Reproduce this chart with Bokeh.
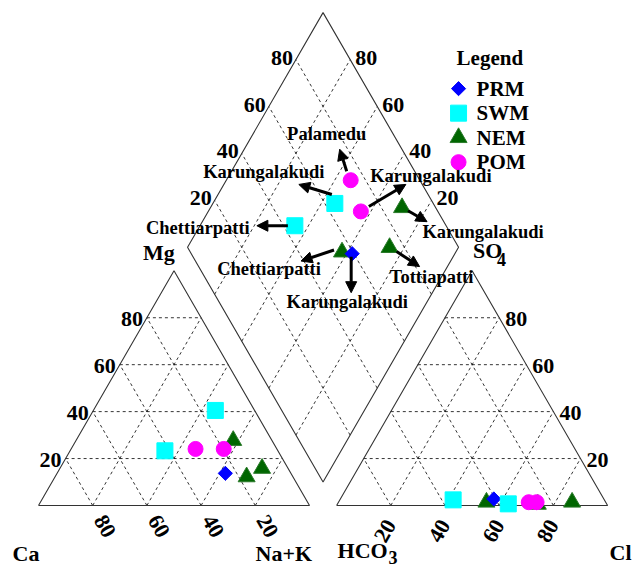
import math
from bokeh.plotting import figure
from bokeh.models import Arrow, NormalHead
from bokeh.core.properties import value
from bokeh.embed import file_html
from bokeh.resources import INLINE

# ---------------- data (percent of meq) ----------------
groups = ["PRM", "SWM", "SWM", "NEM", "NEM", "NEM", "POM", "POM"]
sites = ["Karungalakudi", "Karungalakudi", "Chettiarpatti", "Chettiarpatti",
         "Karungalakudi", "Tottiapatti", "Palamedu", "Karungalakudi"]
ca   = [24.2, 14.5, 41.7, 14.3, 17.1,  9.6, 30.0, 19.6]
mg   = [13.7, 40.5, 23.3, 27.7, 12.2, 15.8, 24.1, 24.1]
nak  = [62.1, 45.0, 35.0, 58.0, 70.7, 74.6, 45.9, 56.3]
hco3 = [40.6, 36.3, 55.8, 44.0, 12.4, 25.5, 25.5, 28.4]
cl   = [56.6, 63.0, 41.8, 54.6, 86.2, 74.0, 73.1, 70.2]
so4  = [2.8,  0.7,  2.4,  1.4,  1.4,  0.5,  1.4,  1.4]
legend_groups = ["PRM", "SWM", "NEM", "POM"]
ticks = [20, 40, 60, 80]

# ---------------- layout / style ----------------
SC = 2.71            # px per data unit
GAP = 10.0
H = math.sqrt(3) / 2
FONT = value("Liberation Serif")
styles = {
    "PRM": dict(marker="square", angle=math.pi / 4, size=10, fill_color="#0000FF", line_color="#0000FF"),
    "SWM": dict(marker="square", angle=0.0, size=16, fill_color="#00FFFF", line_color="#00FFFF"),
    "NEM": dict(marker="triangle", angle=0.0, size=17, fill_color="#006600", line_color="#2a7a2a"),
    "POM": dict(marker="circle", angle=0.0, size=15, fill_color="#FF00FF", line_color="#FF00FF"),
}
draw_order = ["NEM", "PRM", "SWM", "POM"]
# annotation layout in px (dx right, dy down) relative to diamond point
ann = [
    ((-1, 3), (-1, 39), (-5, 48)),
    ((-3, -9), (-36, -19), (-71, -31)),
    ((-7, 0), (-38, 0), (-97, 2)),
    ((-8, -2), (-41, 9), (-73, 17)),
    ((6, 3), (25, 14), (81, 24)),
    ((7, 4), (30, 19), (42, 29)),
    ((-4, -9), (-11, -31), (-24, -46)),
    ((8, -5), (45, -27), (70, -35)),
]

W, HT = 632, 567
x0 = -38 / SC
y1 = 505 / SC
p = figure(width=W, height=HT, x_range=(x0, x0 + W / SC), y_range=(y1 - HT / SC, y1),
           output_backend="svg", toolbar_location=None, min_border=0)
p.axis.visible = False
p.grid.visible = False
p.outline_line_color = None
p.background_fill_color = "white"

def u(d):
    return d / SC

def cat_xy(a, m, n):
    t = a + m + n
    m, n = m / t * 100, n / t * 100
    return n + m / 2, m * H

def an_xy(h, c, s):
    t = h + c + s
    c, s = c / t * 100, s / t * 100
    return 100 + GAP + c + s / 2, s * H

def dia_xy(pc, pa):
    (xc, yc), (xa, ya) = pc, pa
    t = (2 * (xa - xc) + (ya - yc) / H) / 2
    return xc + 0.5 * t, yc + H * t

def dline(a, b):
    p.line([a[0], b[0]], [a[1], b[1]], line_color="black", line_width=0.8, line_dash="3 3")

def text(xs, ys, ts, size, align="center", base="middle", angle=0.0, bold=True):
    p.text(x=xs, y=ys, text=ts, angle=angle, text_align=align, text_baseline=base,
           text_font=FONT, text_font_style="bold" if bold else "normal",
           text_font_size=size, text_color="black")

# ---------------- grids ----------------
for k in ticks:
    dline(cat_xy(100 - k, k, 0), cat_xy(0, k, 100 - k))
    dline(cat_xy(k, 0, 100 - k), cat_xy(k, 100 - k, 0))
    dline(cat_xy(100 - k, 0, k), cat_xy(0, 100 - k, k))
    dline(an_xy(100 - k, 0, k), an_xy(0, 100 - k, k))
    dline(an_xy(k, 100 - k, 0), an_xy(k, 0, 100 - k))
    dline(an_xy(100 - k, k, 0), an_xy(0, k, 100 - k))

B = (100 + GAP / 2, GAP * H)
L = (B[0] - 50, B[1] + 100 * H)
T = (B[0], B[1] + 200 * H)
R = (B[0] + 50, B[1] + 100 * H)
def lerp(a, b, f):
    return (a[0] + f * (b[0] - a[0]), a[1] + f * (b[1] - a[1]))
for k in ticks:
    f = k / 100
    dline(lerp(B, R, f), lerp(L, T, f))
    dline(lerp(B, L, f), lerp(R, T, f))

# ---------------- outlines ----------------
for pts in ([cat_xy(100, 0, 0), cat_xy(0, 0, 100), cat_xy(0, 100, 0), cat_xy(100, 0, 0)],
            [an_xy(100, 0, 0), an_xy(0, 100, 0), an_xy(0, 0, 100), an_xy(100, 0, 0)],
            [B, R, T, L, B]):
    p.line([q[0] for q in pts], [q[1] for q in pts], line_color="#333333", line_width=1.1)

# ---------------- tick labels ----------------
TS = "22px"
labs = [str(k) for k in ticks]
# Mg on left edge
pts = [cat_xy(100 - k, k, 0) for k in ticks]
text([q[0] - u(4) for q in pts], [q[1] - u(1) for q in pts], labs, TS, align="right")
# Ca on base (rotated)
pts = [cat_xy(k, 0, 100 - k) for k in ticks]
text([q[0] + 4.8 * 0.5 for q in pts], [q[1] - 4.8 * H for q in pts], labs, TS,
     align="left", angle=-math.pi / 3)
# SO4 on right edge
pts = [an_xy(0, 100 - k, k) for k in ticks]
text([q[0] + u(6) for q in pts], [q[1] - u(1) for q in pts], labs, TS, align="left")
# Cl on base (rotated)
pts = [an_xy(100 - k, k, 0) for k in ticks]
text([q[0] + u(0) for q in pts], [q[1] - u(16) for q in pts], labs, TS,
     align="right", angle=math.pi / 3)
# diamond edges
pts = [lerp(L, T, k / 100) for k in ticks]
text([q[0] - u(3) for q in pts], [q[1] + u(2) for q in pts], labs, TS, align="right")
pts = [lerp(R, T, k / 100) for k in ticks]
text([q[0] + u(5) for q in pts], [q[1] + u(2) for q in pts], labs, TS, align="left")

# ---------------- axis titles ----------------
AS = "22px"
apex = cat_xy(0, 100, 0)
text([apex[0] - u(31)], [apex[1] + u(18)], ["Mg"], AS, align="left")
capx = cat_xy(100, 0, 0)
text([capx[0] - u(26)], [capx[1] - u(48)], ["Ca"], AS, align="left")
nax = cat_xy(0, 0, 100)
text([nax[0] - u(54)], [nax[1] - u(48)], ["Na+K"], AS, align="left")
hx = an_xy(100, 0, 0)
text([hx[0] + u(1)], [hx[1] - u(45)], ["HCO"], AS, align="left")
text([hx[0] + u(52)], [hx[1] - u(52)], ["3"], "18px", align="left")
clx = an_xy(0, 100, 0)
text([clx[0] + u(24)], [clx[1] - u(46.5)], ["Cl"], AS, align="right")
sx = an_xy(0, 0, 100)
text([sx[0] + u(1)], [sx[1] + u(20.5)], ["SO"], AS, align="left")
text([sx[0] + u(25)], [sx[1] + u(11)], ["4"], "18px", align="left")

# ---------------- points ----------------
cpts = [cat_xy(a, m, n) for a, m, n in zip(ca, mg, nak)]
apts = [an_xy(h, c, s) for h, c, s in zip(hco3, cl, so4)]
dpts = [dia_xy(c, a) for c, a in zip(cpts, apts)]

# annotations in diamond
for (d, (st, en, tx), site) in zip(dpts, ann, sites):
    p.add_layout(Arrow(end=NormalHead(size=11, fill_color="black", line_color="black", line_width=1),
                       x_start=d[0] + u(st[0]), y_start=d[1] - u(st[1]),
                       x_end=d[0] + u(en[0]), y_end=d[1] - u(en[1]),
                       line_width=3, line_color="black"))
    text([d[0] + u(tx[0])], [d[1] - u(tx[1])], [site], "18.5px")

for g in draw_order:
    idx = [i for i, gg in enumerate(groups) if gg == g]
    st = styles[g]
    for pts in (cpts, apts, dpts):
        p.scatter([pts[i][0] for i in idx], [pts[i][1] for i in idx], **st)

# ---------------- legend ----------------
lx = R[0]
ly = T[1] - u(45)
text([lx - u(2)], [ly], ["Legend"], "21px", align="left")
for j, g in enumerate(legend_groups):
    yy = ly - u(31 + 24.5 * j)
    p.scatter([lx], [yy], **styles[g])
    text([lx + u(18)], [yy], [g], "21px", align="left")

open("out.html", "w").write(file_html(p, INLINE))
